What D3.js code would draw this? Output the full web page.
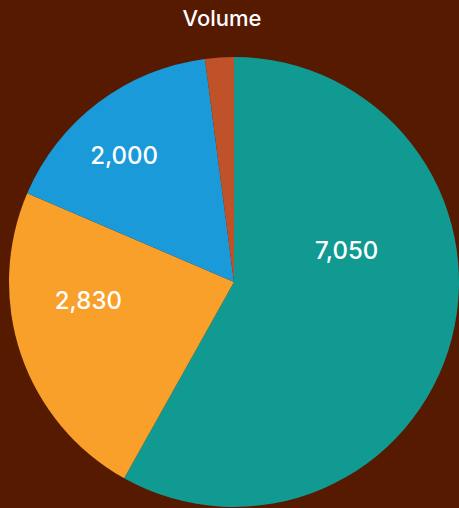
<!DOCTYPE html>
<html>
<head>
<meta charset="utf-8">
<script src="https://cdn.jsdelivr.net/npm/d3@7"></script>
<style>
  html, body { margin: 0; padding: 0; background: #551a00; }
  svg { display: block; }
</style>
</head>
<body>
<div id="chart"></div>
<script>
// data
var categories = ["A", "B", "C", "D"];
var volumes = [7050, 2830, 2000, 250];
var shownLabels = ["7,050", "2,830", "2,000", ""];
var sliceColors = ["#119a92", "#f8a02a", "#1a9ad9", "#bf5228"];
var chartTitle = "Volume";

// where inside each slice the label sits (fraction along the slice, fraction of radius)
var labelAlong = [0.355, 0.64, 0.435, 0.5];
var labelOut = [0.52, 0.652, 0.745, 0.5];

var width = 459, height = 508;
var cx = 234, cy = 282, radius = 225;

var svg = d3.select("#chart").append("svg")
  .attr("width", width).attr("height", height)

svg.append("rect").attr("width", width).attr("height", height).attr("fill", "#551a00")

svg.append("text")
  .attr("x", 222).attr("y", 26)
  .attr("text-anchor", "middle")
  .attr("fill", "#ffffff")
  .style("font-family", "Inter, 'Liberation Sans', sans-serif")
  .style("font-weight", 500)
  .style("font-size", "22px")
  .text(chartTitle)

var color = d3.scaleOrdinal().domain(categories).range(sliceColors)

var pie = d3.pie().sort(null).value(function(d){ return d.v; })
var arcs = pie(categories.map(function(c, i){ return {c: c, v: volumes[i], i: i}; }))

var arc = d3.arc().innerRadius(0).outerRadius(radius)

var g = svg.append("g").attr("transform", "translate(" + cx + "," + cy + ")")

g.selectAll("path.slice").data(arcs).enter().append("path")
  .attr("class", "slice")
  .attr("d", arc)
  .attr("fill", function(d){ return color(d.data.c); })

g.selectAll("text.lbl").data(arcs).enter().append("text")
  .attr("class", "lbl")
  .attr("transform", function(d){
    var i = d.data.i;
    var a = d.startAngle + (d.endAngle - d.startAngle) * labelAlong[i];
    var p = d3.pointRadial(a, radius * labelOut[i]);
    return "translate(" + p[0] + "," + p[1] + ")";
  })
  .attr("text-anchor", "middle")
  .attr("dy", "0.36em")
  .attr("fill", "#ffffff")
  .style("font-family", "Inter, 'Liberation Sans', sans-serif")
  .style("font-weight", 500)
  .style("font-size", "24px")
  .text(function(d){ return shownLabels[d.data.i]; })
</script>
</body>
</html>
